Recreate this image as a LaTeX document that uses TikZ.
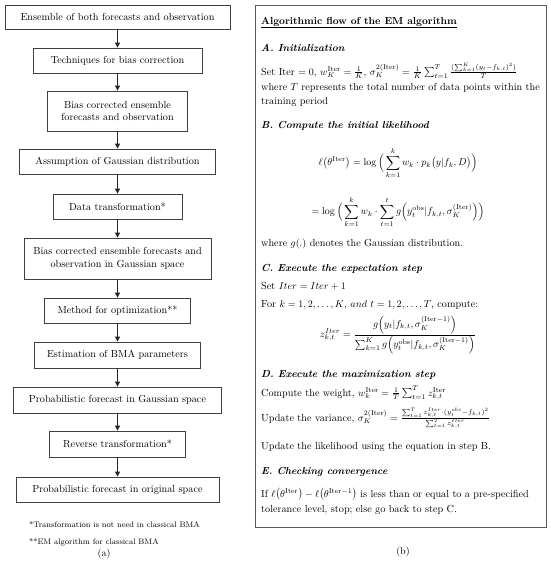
\documentclass[tikz,border=0pt]{standalone}
\usepackage{amsmath}
\usetikzlibrary{arrows.meta}
\tikzset{
  flowbox/.style={draw=black!75, line width=0.8pt, align=center, inner sep=2pt,
     font=\fontsize{10.2}{12.5}\selectfont},
  flowarrow/.style={-{Triangle[length=5pt,width=5pt]}, line width=0.9pt, black!85},
  txt/.style={anchor=base west, inner sep=0pt, font=\fontsize{10.2}{12.5}\selectfont},
  eqn/.style={anchor=center, inner sep=0pt, font=\fontsize{10.2}{12.5}\selectfont},
  head/.style={txt, font=\fontsize{10.2}{12.5}\selectfont\bfseries\itshape},
  note/.style={anchor=base west, inner sep=0pt, font=\fontsize{8}{9.5}\selectfont},
}
\newcommand{\It}{\mathrm{Iter}}
\begin{document}
\begin{tikzpicture}[x=1pt,y=-1pt]
\useasboundingbox (0,0) rectangle (550,563);
% ---------- (a) flow chart ----------
\node[flowbox, minimum width=225pt, minimum height=24pt] (n1) at (117.5,17) {Ensemble of both forecasts and observation};
\node[flowbox, minimum width=169pt, minimum height=25pt] (n2) at (117.5,60.5) {Techniques for bias correction};
\node[flowbox, minimum width=140pt, minimum height=40pt] (n3) at (117.5,111) {Bias corrected ensemble\\forecasts and observation};
\node[flowbox, minimum width=196pt, minimum height=25pt] (n4) at (117.5,161.5) {Assumption of Gaussian distribution};
\node[flowbox, minimum width=129pt, minimum height=25pt] (n5) at (117.5,206.5) {Data transformation*};
\node[flowbox, minimum width=187pt, minimum height=41pt] (n6) at (117.5,258.5) {Bias corrected ensemble forecasts and\\observation in Gaussian space};
\node[flowbox, minimum width=146pt, minimum height=25pt] (n7) at (117.5,310.5) {Method for optimization**};
\node[flowbox, minimum width=166pt, minimum height=26pt] (n8) at (117.5,355) {Estimation of BMA parameters};
\node[flowbox, minimum width=208pt, minimum height=26pt] (n9) at (117.5,400) {Probabilistic forecast in Gaussian space};
\node[flowbox, minimum width=136pt, minimum height=26pt] (n10) at (117.5,444) {Reverse transformation*};
\node[flowbox, minimum width=203pt, minimum height=25pt] (n11) at (117.5,489.5) {Probabilistic forecast in original space};
\foreach \a/\b in {n1/n2,n2/n3,n3/n4,n4/n5,n5/n6,n6/n7,n7/n8,n8/n9,n9/n10,n10/n11}
  \draw[flowarrow] (\a.south) -- (\b.north);
\node[note] (f1) at (29,527) {*Transformation is not need in classical BMA};
\node[note] (f2) at (29,544) {**EM algorithm for classical BMA};
\node[eqn, font=\fontsize{10}{12}\selectfont] (la) at (104,554) {(a)};
% ---------- (b) algorithm box ----------
\draw[black!65, line width=1pt] (255,5) rectangle (546,527);
\node[txt, font=\fontsize{10.2}{12.5}\selectfont\bfseries] (ttl) at (261,24) {\underline{Algorithmic flow of the EM algorithm}};
\node[head] (hA) at (261,51) {A. Initialization};
\node[txt] (a1) at (261,75) {Set Iter $=0$, $w_K^{\It}=\frac{1}{K}$, $\sigma_K^{2(\It)}=\frac{1}{K}\sum_{t=1}^{T}\frac{(\sum_{k=1}^{K}(y_t-f_{k,t})^2)}{T}$};
\node[txt] (a2) at (261,90) {where $T$ represents the total number of data points within the};
\node[txt] (a3) at (261,104) {training period};
\node[head] (hB) at (261,128) {B. Compute the initial likelihood};
\node[eqn] (b1) at (398,163) {$\displaystyle \ell\bigl(\theta^{\It}\bigr)=\log\Big(\sum_{k=1}^{k} w_k\cdot p_k\bigl(y|f_k,D\bigr)\Big)$};
\node[eqn] (b2) at (398,212) {$\displaystyle =\log\Big(\sum_{k=1}^{k} w_k\cdot\sum_{t=1}^{t} g\Bigl(y_t^{\mathrm{obs}}|f_{k,t},\sigma_K^{(\It)}\Bigr)\Big)$};
\node[txt] (b3) at (261,246) {where $g(.)$ denotes the Gaussian distribution.};
\node[head] (hC) at (261,271) {C. Execute the expectation step};
\node[txt] (c1) at (261,289) {Set $Iter=Iter+1$};
\node[txt] (c2) at (261,307) {For $k=1,2,\ldots,K$, $and\ t=1,2,\ldots,T$, compute:};
\node[eqn] (c3) at (398,335) {$\displaystyle z_{k,t}^{Iter}=\frac{g\Bigl(y_t|f_{k,t},\sigma_K^{(\It-1)}\Bigr)}{\sum_{k=1}^{K} g\Bigl(y_t^{\mathrm{obs}}|f_{k,t},\sigma_K^{(\It-1)}\Bigr)}$};
\node[head] (hD) at (261,377) {D. Execute the maximization step};
\node[txt] (d1) at (261,396) {Compute the weight, $w_k^{\It}=\frac{1}{T}\sum_{t=1}^{T} z_{k,t}^{\It}$};
\node[txt] (d2) at (261,421) {Update the variance, $\sigma_K^{2(\It)}=\frac{\sum_{t=1}^{T} z_{k,t}^{Iter}\cdot(y_t^{obs}-f_{k,t})^2}{\sum_{t=1}^{T} z_{k,t}^{Iter}}$};
\node[txt] (d3) at (261,449) {Update the likelihood using the equation in step B.};
\node[head] (hE) at (261,474) {E. Checking convergence};
\node[txt] (e1) at (261,497) {If $\ell\bigl(\theta^{\It}\bigr)-\ell\bigl(\theta^{\It-1}\bigr)$ is less than or equal to a pre-specified};
\node[txt] (e2) at (261,512) {tolerance level, stop; else go back to step C.};
\node[eqn, font=\fontsize{10}{12}\selectfont] (lb) at (403,552) {(b)};
\end{tikzpicture}
\end{document}
